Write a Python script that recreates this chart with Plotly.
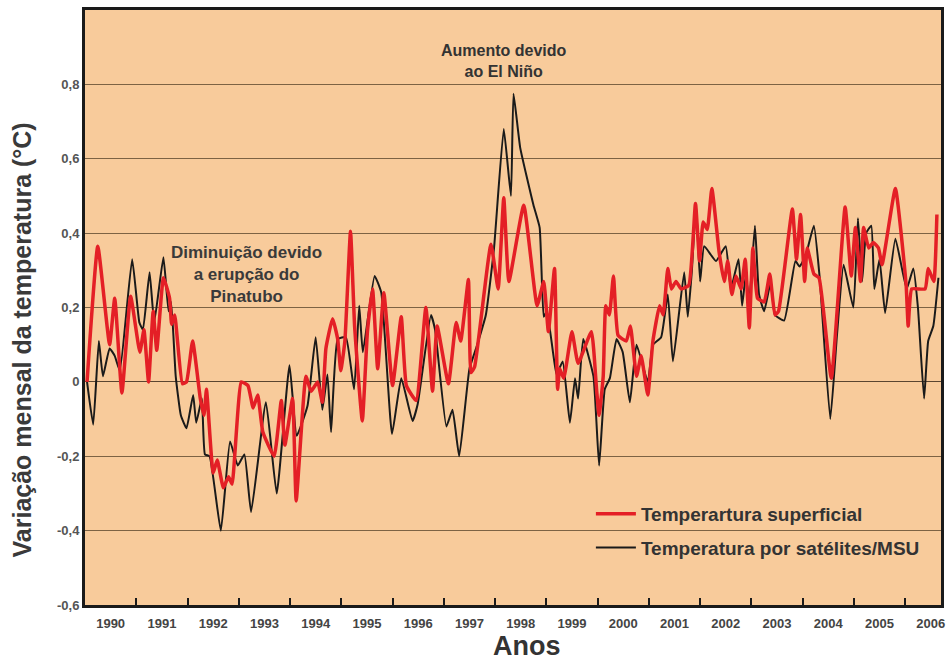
import plotly.graph_objects as go

# --- Data (decimal year, anomaly in °C) ---
surf_years = [1990.04, 1990.25, 1990.48, 1990.58, 1990.72, 1990.89, 1991.07, 1991.15, 1991.24, 1991.33,
              1991.40, 1991.53, 1991.65, 1991.69, 1991.75, 1991.90, 1991.98, 1992.10, 1992.25, 1992.32,
              1992.37, 1992.50, 1992.58, 1992.70, 1992.80, 1992.87, 1993.05, 1993.18, 1993.28, 1993.37,
              1993.47, 1993.69, 1993.83, 1993.90, 1994.05, 1994.12, 1994.31, 1994.41, 1994.54, 1994.63,
              1994.70, 1994.83, 1994.93, 1994.99, 1995.07, 1995.18, 1995.26, 1995.41, 1995.51, 1995.61,
              1995.71, 1995.83, 1996.00, 1996.17, 1996.27, 1996.46, 1996.65, 1996.78, 1996.87, 1997.09,
              1997.24, 1997.33, 1997.48, 1997.53, 1997.60, 1997.92, 1998.06, 1998.17, 1998.27, 1998.56,
              1998.82, 1998.95, 1999.04, 1999.16, 1999.22, 1999.26, 1999.34, 1999.50, 1999.62, 1999.88,
              1999.98, 2000.03, 2000.11, 2000.16, 2000.23, 2000.31, 2000.40, 2000.56, 2000.64, 2000.76,
              2000.85, 2000.98, 2001.08, 2001.21, 2001.28, 2001.37, 2001.44, 2001.53, 2001.63, 2001.78,
              2001.91, 2001.99, 2002.06, 2002.14, 2002.23, 2002.37, 2002.47, 2002.54, 2002.62, 2002.70,
              2002.80, 2002.88, 2002.96, 2003.03, 2003.12, 2003.25, 2003.36, 2003.46, 2003.53, 2003.80,
              2003.88, 2003.96, 2004.04, 2004.09, 2004.22, 2004.32, 2004.56, 2004.83, 2004.95, 2005.03,
              2005.13, 2005.19, 2005.29, 2005.38, 2005.48, 2005.55, 2005.81, 2006.02, 2006.06, 2006.13,
              2006.39, 2006.45, 2006.56, 2006.62]
surf_values = [0.00, 0.365, 0.10, 0.225, -0.03, 0.23, 0.08, 0.14, 0.00, 0.19,
               0.085, 0.28, 0.225, 0.155, 0.18, -0.005, 0.00, 0.11, -0.045, -0.09,
               -0.02, -0.245, -0.21, -0.285, -0.255, -0.275, 0.00, -0.01, -0.07, -0.035,
               -0.135, -0.20, -0.05, -0.17, -0.045, -0.32, 0.015, -0.025, 0.00, -0.055,
               0.09, 0.17, 0.115, 0.03, 0.11, 0.405, 0.15, -0.105, 0.135, 0.25,
               0.035, 0.24, -0.01, 0.175, -0.01, -0.05, 0.20, -0.025, 0.15, -0.005,
               0.16, 0.11, 0.275, 0.025, 0.04, 0.37, 0.25, 0.495, 0.27, 0.475,
               0.205, 0.27, 0.135, 0.305, -0.02, 0.035, 0.01, 0.135, 0.05, 0.135,
               -0.02, -0.09, 0.015, 0.205, 0.18, 0.285, 0.125, 0.11, 0.15, 0.015,
               0.07, -0.035, 0.11, 0.205, 0.18, 0.305, 0.25, 0.27, 0.25, 0.26,
               0.48, 0.325, 0.43, 0.41, 0.52, 0.35, 0.27, 0.325, 0.235, 0.285,
               0.25, 0.33, 0.145, 0.36, 0.225, 0.215, 0.29, 0.18, 0.19, 0.465,
               0.33, 0.45, 0.27, 0.36, 0.29, 0.28, 0.01, 0.47, 0.285, 0.415,
               0.27, 0.415, 0.36, 0.375, 0.36, 0.315, 0.52, 0.26, 0.15, 0.25,
               0.25, 0.305, 0.27, 0.45]

sat_years = [1990.04, 1990.16, 1990.27, 1990.35, 1990.48, 1990.58, 1990.68, 1990.92, 1991.06, 1991.13,
             1991.26, 1991.35, 1991.53, 1991.63, 1991.68, 1991.77, 1991.87, 1991.98, 1992.11, 1992.17,
             1992.28, 1992.34, 1992.43, 1992.65, 1992.83, 1992.98, 1993.11, 1993.24, 1993.53, 1993.74,
             1993.99, 1994.13, 1994.34, 1994.50, 1994.63, 1994.73, 1994.80, 1994.93, 1995.09, 1995.25,
             1995.35, 1995.42, 1995.65, 1995.78, 1995.99, 1996.17, 1996.39, 1996.49, 1996.75, 1996.83,
             1997.05, 1997.17, 1997.30, 1997.50, 1997.63, 1997.82, 1997.98, 1998.17, 1998.31, 1998.36,
             1998.49, 1998.75, 1998.87, 1998.95, 1999.01, 1999.13, 1999.20, 1999.32, 1999.46, 1999.56,
             1999.62, 1999.72, 1999.92, 2000.03, 2000.14, 2000.24, 2000.37, 2000.49, 2000.63, 2000.76,
             2000.98, 2001.08, 2001.24, 2001.37, 2001.47, 2001.69, 2001.76, 2001.84, 2001.92, 2002.00,
             2002.08, 2002.31, 2002.50, 2002.60, 2002.75, 2002.82, 2002.89, 2002.96, 2003.07, 2003.15,
             2003.25, 2003.38, 2003.46, 2003.64, 2003.86, 2003.94, 2004.06, 2004.22, 2004.33, 2004.54,
             2004.67, 2004.80, 2004.99, 2005.08, 2005.16, 2005.24, 2005.34, 2005.40, 2005.50, 2005.61,
             2005.81, 2006.03, 2006.16, 2006.25, 2006.37, 2006.45, 2006.55, 2006.65]
sat_values = [0.00, -0.115, 0.11, 0.015, 0.09, 0.07, 0.03, 0.33, 0.16, 0.14,
              0.295, 0.16, 0.335, 0.19, 0.215, 0.015, -0.09, -0.125, -0.035, -0.11,
              -0.045, -0.195, -0.20, -0.40, -0.16, -0.225, -0.195, -0.35, -0.055, -0.30,
              0.045, -0.145, -0.065, 0.12, -0.075, 0.02, -0.135, 0.115, 0.12, -0.02,
              0.205, 0.08, 0.285, 0.24, -0.14, 0.01, -0.105, -0.06, 0.18, 0.14,
              -0.12, -0.075, -0.20, 0.035, 0.09, 0.18, 0.36, 0.68, 0.50, 0.775,
              0.63, 0.475, 0.415, 0.175, 0.19, 0.08, 0.02, 0.055, -0.11, 0.01,
              -0.045, 0.115, 0.015, -0.225, -0.02, 0.01, 0.115, 0.08, -0.055, 0.10,
              0.00, 0.10, 0.12, 0.235, 0.055, 0.295, 0.175, 0.30, 0.48, 0.27,
              0.365, 0.325, 0.365, 0.25, 0.33, 0.205, 0.285, 0.22, 0.42, 0.235,
              0.19, 0.27, 0.18, 0.165, 0.325, 0.31, 0.34, 0.42, 0.285, -0.10,
              0.125, 0.315, 0.20, 0.44, 0.27, 0.40, 0.42, 0.25, 0.33, 0.185,
              0.385, 0.25, 0.305, 0.20, -0.045, 0.11, 0.15, 0.28]

year_labels = [str(y) for y in range(1990, 2007)]
year_centers = [y + 0.5 for y in range(1990, 2007)]
year_bounds = list(range(1991, 2007))
y_ticks = [-0.6, -0.4, -0.2, 0, 0.2, 0.4, 0.6, 0.8]
y_tick_text = ["-0,6", "-0,4", "-0,2", "0", "0,2", "0,4", "0,6", "0,8"]

FONT = "Liberation Sans, Arial, sans-serif"

fig = go.Figure()
fig.add_trace(go.Scatter(
    x=sat_years, y=sat_values, mode="lines",
    name="Temperatura por satélites/MSU",
    line=dict(color="#1a1a1a", width=2, shape="spline", smoothing=0.4),
    legendrank=2, legendgroup="b",
))
fig.add_trace(go.Scatter(
    x=surf_years, y=surf_values, mode="lines",
    name="Temperartura superficial",
    line=dict(color="#e41f26", width=3.5, shape="spline", smoothing=0.4),
    legendrank=1, legendgroup="a",
))

fig.update_layout(
    width=951, height=661,
    margin=dict(l=85, r=6, t=10, b=56),
    paper_bgcolor="white",
    plot_bgcolor="#F8CB9B",
    font=dict(family=FONT, color="#333333"),
    showlegend=True,
    legend=dict(
        x=0.591, y=0.185, xanchor="left", yanchor="top",
        bgcolor="rgba(0,0,0,0)",
        font=dict(size=19, color="#333333", family=FONT, weight="bold"),
        tracegroupgap=6,
        itemwidth=40,
    ),
    xaxis=dict(
        range=[1990, 2006.7],
        tickvals=year_centers, ticktext=year_labels,
        ticks="", showgrid=False, zeroline=False,
        tickfont=dict(size=13, color="#444444", family=FONT, weight="bold"),
        ticklabelstandoff=4,
        showline=True, mirror=True, linewidth=3, linecolor="#1a1a1a",
        minor=dict(tickvals=year_bounds, ticks="inside", ticklen=7,
                   tickwidth=2, tickcolor="#1a1a1a", showgrid=False),
    ),
    yaxis=dict(
        range=[-0.6, 1.0],
        tickvals=y_ticks, ticktext=y_tick_text,
        ticks="", showgrid=True, gridcolor="#7d6344", gridwidth=1.3,
        zeroline=True, zerolinecolor="#5a4530", zerolinewidth=1.3,
        tickfont=dict(size=13, color="#555555", family=FONT, weight="bold"),
        showline=True, mirror=True, linewidth=3, linecolor="#1a1a1a",
    ),
    annotations=[
        dict(text="Variação mensal da temperatura (°C)", xref="paper", yref="paper",
             x=-0.0733, y=0.445, xanchor="center", yanchor="middle",
             textangle=-90, showarrow=False,
             font=dict(size=25, color="#3a3a3a", family=FONT, weight="bold")),
        dict(text="Anos", xref="paper", yref="paper", x=0.516, y=-0.069,
             xanchor="center", yanchor="middle", showarrow=False,
             font=dict(size=27, color="#333333", family=FONT, weight="bold")),
        dict(text="Diminuição devido<br>a erupção do<br>Pinatubo", xref="x", yref="y",
             x=1993.15, y=0.29, showarrow=False,
             font=dict(size=17, color="#3a3a3a", family=FONT, weight="bold")),
        dict(text="Aumento devido<br>ao El Niño", xref="x", yref="y",
             x=1998.17, y=0.862, showarrow=False,
             font=dict(size=16, color="#333333", family=FONT, weight="bold")),
    ],
)

# remove the default page margin so the 951x661 figure fills the window exactly
fig.write_html(
    "out.html",
    config={"displayModeBar": False},
    post_script="document.body.style.margin='0';document.body.style.overflow='hidden';",
)
